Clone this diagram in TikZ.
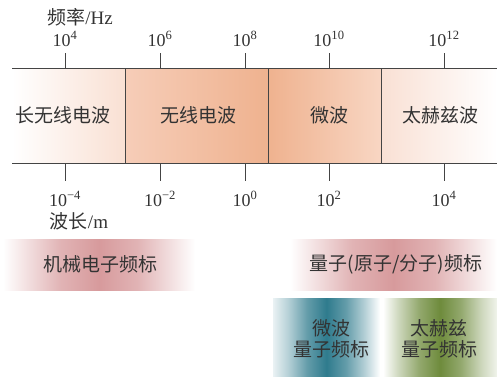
\documentclass[tikz,border=0pt]{standalone}
\usepackage{fontspec}
\setmainfont{Liberation Serif}
\newfontfamily\cjk{Noto Sans CJK SC}
\definecolor{txt}{HTML}{333333}
\definecolor{lineC}{HTML}{444444}
\definecolor{pkA}{HTML}{F9E0D3}
\definecolor{pkB}{HTML}{F6CDB8}
\definecolor{pkC}{HTML}{EFB28F}
\definecolor{pkD}{HTML}{F8D6C3}
\definecolor{pkE}{HTML}{F9E0D4}
\definecolor{rosy}{HTML}{D79A9C}
\definecolor{teal}{HTML}{2F7B8D}
\definecolor{olive}{HTML}{6E8B3C}
\pgfdeclarehorizontalshading{rosyfade}{100bp}{color(0bp)=(white); color(25bp)=(white); color(32bp)=(rosy!35); color(40bp)=(rosy!75); color(50bp)=(rosy); color(60bp)=(rosy!75); color(68bp)=(rosy!35); color(75bp)=(white); color(100bp)=(white)}
\pgfdeclarehorizontalshading{tealfade}{100bp}{color(0bp)=(white); color(25bp)=(white!90!teal); color(32bp)=(teal!35); color(41bp)=(teal!75); color(50bp)=(teal); color(59bp)=(teal!75); color(68bp)=(teal!35); color(75bp)=(white); color(100bp)=(white)}
\pgfdeclarehorizontalshading{olivefade}{100bp}{color(0bp)=(white); color(25bp)=(white); color(32bp)=(olive!35); color(41bp)=(olive!75); color(50bp)=(olive); color(59bp)=(olive!75); color(68bp)=(olive!35); color(75bp)=(white!90!olive); color(100bp)=(white)}
\newcommand{\sufx}[1]{\textsuperscript{#1}}
\begin{document}
\begin{tikzpicture}[x=1pt,y=-1pt,
  cn/.style={font=\cjk\fontsize{19}{21}\selectfont, text=txt, inner sep=0pt},
  num/.style={font=\fontsize{18}{20}\selectfont, text=txt, inner sep=0pt},
  axisline/.style={draw=lineC, line width=0.9pt},
  tick/.style={draw=lineC, line width=0.9pt}]
\useasboundingbox (0,0) rectangle (497,376);
% bands
\shade[left color=white, right color=pkA] (12,68) rectangle (125,163);
\shade[left color=pkB, right color=pkC] (125,68) rectangle (268,163);
\shade[left color=pkC, right color=pkD] (268,68) rectangle (381,163);
\shade[left color=pkE, right color=white] (381,68) rectangle (497,163);
\coordinate (lt) at (12,68); \coordinate (rt) at (497,68);
\coordinate (lb) at (12,163); \coordinate (rb) at (497,163);
\draw[axisline] (lt) -- (rt);
\draw[axisline] (lb) -- (rb);
\foreach \x/\n in {125/d1,268/d2,381/d3}{
  \coordinate (\n t) at (\x,68); \coordinate (\n b) at (\x,163);
  \draw[axisline] (\n t) -- (\n b);
}
% ticks
\foreach \x/\n in {65/a,160/b,245/c,329/d,444/e}{
  \coordinate (\n1) at (\x,53); \coordinate (\n2) at (\x,68);
  \coordinate (\n3) at (\x,163); \coordinate (\n4) at (\x,181);
  \draw[tick] (\n1) -- (\n2);
  \draw[tick] (\n3) -- (\n4);
}
% frequency labels
\node[cn] (fq) at (80,17) {频率{\rmfamily/Hz}};
\node[num] (f4) at (65,39) {10\sufx{4}};
\node[num] (f6) at (160,39) {10\sufx{6}};
\node[num] (f8) at (245,39) {10\sufx{8}};
\node[num] (f10) at (329,39) {10\sufx{10}};
\node[num] (f12) at (444,39) {10\sufx{12}};
% wavelength labels
\node[num] (w1) at (65,199) {10\sufx{−4}};
\node[num] (w2) at (160,199) {10\sufx{−2}};
\node[num] (w3) at (245,199) {10\sufx{0}};
\node[num] (w4) at (329,199) {10\sufx{2}};
\node[num] (w5) at (444,199) {10\sufx{4}};
\node[cn] (wl) at (79,221) {波长{\rmfamily/m}};
% band names
\node[cn] (b1) at (63,115) {长无线电波};
\node[cn] (b2) at (198,115) {无线电波};
\node[cn] (b3) at (329,115) {微波};
\node[cn] (b4) at (440,115) {太赫兹波};
% standard bars
\shade[shading=rosyfade] (3,239) rectangle (195,290);
\shade[shading=rosyfade] (290,239) rectangle (497,290);
\shade[shading=tealfade] (273,298) rectangle (380,376);
\shade[shading=olivefade] (383,298) rectangle (497,376);
\node[cn] (m1) at (100,264) {机械电子频标};
\node[cn] (m2) at (396,264) {量子(原子/分子)频标};
\node[cn, align=center] (m3) at (331,339) {微波\\量子频标};
\node[cn, align=center] (m4) at (439,339) {太赫兹\\量子频标};
\end{tikzpicture}
\end{document}
